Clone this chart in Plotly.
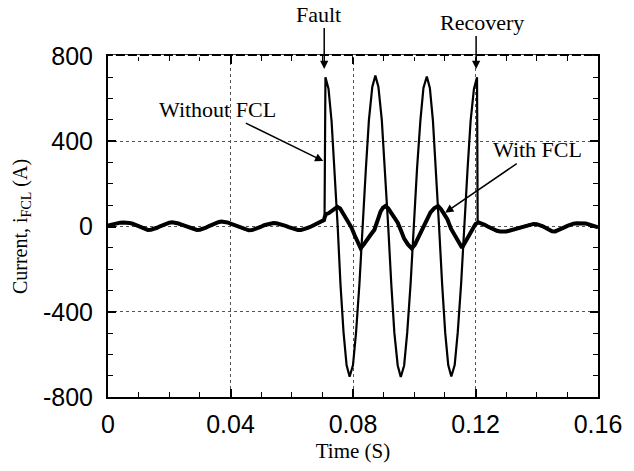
import plotly.graph_objects as go

# ---- data (time in s, current in A) ----
# normal operation before the fault (both cases identical)
t_pre = [0.000, 0.001, 0.002, 0.003, 0.004, 0.005, 0.006, 0.007, 0.008, 0.009,
         0.010, 0.011, 0.012, 0.013, 0.014, 0.015, 0.016, 0.017, 0.018, 0.019,
         0.020, 0.021, 0.022, 0.023, 0.024, 0.025, 0.026, 0.027, 0.028, 0.029,
         0.030, 0.031, 0.032, 0.033, 0.034, 0.035, 0.036, 0.037, 0.038, 0.039,
         0.040, 0.041, 0.042, 0.043, 0.044, 0.045, 0.046, 0.047, 0.048, 0.049,
         0.050, 0.051, 0.052, 0.053, 0.054, 0.055, 0.056, 0.057, 0.058, 0.059,
         0.060, 0.061, 0.062, 0.063, 0.064, 0.065, 0.066, 0.067, 0.068, 0.069,
         0.070]
i_pre = [4, 8, 12, 15, 18, 19, 19, 17, 13, 8,
         2, -6, -12, -16, -15, -12, -6, 1, 8, 14,
         18, 20, 18, 14, 9, 3, -3, -9, -14, -16,
         -15, -11, -5, 2, 9, 15, 20, 23, 22, 19,
         14, 8, 2, -5, -11, -16, -18, -17, -13, -7,
         -1, 6, 11, 15, 16, 15, 12, 8, 3, -3,
         -9, -13, -16, -16, -13, -8, -2, 5, 12, 18,
         24]

# fault period, without FCL
t_fault_without = [0.0707,
                   0.0710, 0.0720, 0.0730, 0.0740, 0.0750, 0.0759, 0.0769, 0.0779,
                   0.0789, 0.0800, 0.0810, 0.0821, 0.0831, 0.0842, 0.0852, 0.0863,
                   0.0873, 0.0883, 0.0894, 0.0904, 0.0915, 0.0925, 0.0935, 0.0946,
                   0.0956, 0.0967, 0.0977, 0.0988, 0.0998, 0.1009, 0.1020, 0.1030,
                   0.1041, 0.1051, 0.1061, 0.1071, 0.1081, 0.1091, 0.1101, 0.1111,
                   0.1121, 0.1132, 0.1142, 0.1153, 0.1163, 0.1174, 0.1184, 0.1195,
                   0.1205, 0.1207, 0.1210]
i_fault_without = [28,
                   700, 647, 495, 268, 0, -268, -495, -650,
                   -705, -650, -497, -269, 0, 270, 500, 655,
                   708, 655, 500, 270, 0, -270, -498, -652,
                   -706, -652, -498, -270, 0, 270, 497, 650,
                   704, 650, 497, 269, 0, -269, -497, -650,
                   -704, -650, -497, -269, 0, 268, 495, 647,
                   700, 25, 19]

# fault period, with FCL
t_fault_with = [0.0705, 0.0708, 0.0712, 0.0720, 0.0730, 0.0740, 0.0749, 0.0758,
                0.0766, 0.0775, 0.0785, 0.0795, 0.0805, 0.0815, 0.0825, 0.0835,
                0.0845, 0.0857, 0.0870, 0.0880, 0.0890, 0.0898, 0.0906, 0.0915,
                0.0925, 0.0935, 0.0946, 0.0957, 0.0967, 0.0980, 0.0992, 0.1002,
                0.1012, 0.1022, 0.1032, 0.1042, 0.1053, 0.1065, 0.1078, 0.1088,
                0.1098, 0.1108, 0.1120, 0.1134, 0.1145, 0.1156, 0.1170, 0.1182,
                0.1192, 0.1200, 0.1210]
i_fault_with = [30, 45, 58, 62, 72, 85, 92, 85,
                65, 40, 18, -5, -40, -75, -102, -85,
                -62, -40, -15, 30, 70, 88, 96, 85,
                62, 40, 18, -20, -57, -85, -103, -85,
                -55, -30, -5, 35, 66, 85, 96, 80,
                60, 34, -10, -48, -80, -100, -65, -34,
                -5, 12, 19]

# normal operation after recovery (both cases identical)
t_post = [0.122, 0.123, 0.124, 0.125, 0.126, 0.127, 0.128, 0.129, 0.130, 0.131,
          0.132, 0.133, 0.134, 0.135, 0.136, 0.137, 0.138, 0.139, 0.140, 0.141,
          0.142, 0.143, 0.144, 0.145, 0.146, 0.147, 0.148, 0.149, 0.150, 0.151,
          0.152, 0.153, 0.154, 0.155, 0.156, 0.157, 0.158, 0.159, 0.160]
i_post = [15, 8, 0, -8, -15, -20, -23, -24, -23, -20,
          -16, -11, -6, -1, 4, 8, 11, 12, 11, 7,
          1, -7, -15, -22, -23, -18, -11, -4, 3, 9,
          13, 15, 16, 16, 14, 10, 5, 0, -4]

x_ticks = [0, 0.04, 0.08, 0.12, 0.16]
x_tick_text = ["0", "0.04", "0.08", "0.12", "0.16"]
y_ticks = [-800, -400, 0, 400, 800]
y_tick_text = ["-800", "-400", "0", "400", "800"]

# annotation labels and the points their arrows touch
ann_text = ["Fault&nbsp;&nbsp;", "&nbsp;&nbsp;Recovery", "Without FCL", "With FCL"]
ann_tip_t = [0.0706, 0.1202, 0.0703, 0.1101]
ann_tip_i = [739, 739, 307, 65]

# ---- figure ----
serif = "Liberation Serif, Times New Roman, serif"
sans = "Liberation Sans, Arial, sans-serif"

fig = go.Figure()
fig.add_trace(go.Scatter(
    x=t_pre + t_fault_without + t_post,
    y=i_pre + i_fault_without + i_post,
    mode="lines", name="Without FCL",
    line=dict(color="black", width=2.2)))
fig.add_trace(go.Scatter(
    x=t_pre + t_fault_with + t_post,
    y=i_pre + i_fault_with + i_post,
    mode="lines", name="With FCL",
    line=dict(color="black", width=4)))

fig.update_layout(
    width=634, height=471,
    margin=dict(l=108, r=32, t=56, b=62),
    paper_bgcolor="white", plot_bgcolor="white",
    showlegend=False,
    font=dict(family=sans, color="black"),
    xaxis=dict(
        range=[0, 0.16], tickvals=x_ticks, ticktext=x_tick_text,
        ticks="inside", ticklen=8, tickwidth=1.5, tickcolor="black",
        minor=dict(dtick=0.01, ticks="inside", ticklen=5, tickwidth=1.2,
                   tickcolor="black", showgrid=False),
        showline=True, linecolor="black", linewidth=2, mirror="allticks",
        showgrid=True, gridcolor="#555", gridwidth=1, griddash="dot",
        zeroline=False,
        tickfont=dict(family=sans, size=25),
        ticklabelstandoff=4,
        title=dict(text="Time (S)", font=dict(family=serif, size=21), standoff=6),
    ),
    yaxis=dict(
        range=[-800, 800], tickvals=y_ticks, ticktext=y_tick_text,
        ticks="inside", ticklen=8, tickwidth=1.5, tickcolor="black",
        minor=dict(dtick=100, ticks="inside", ticklen=5, tickwidth=1.2,
                   tickcolor="black", showgrid=False),
        showline=True, linecolor="black", linewidth=2, mirror="allticks",
        showgrid=True, gridcolor="#555", gridwidth=1, griddash="dot",
        zeroline=False,
        tickfont=dict(family=sans, size=25),
        ticklabelstandoff=8,
        title=dict(text="Current, i<sub>FCL</sub> (A)",
                   font=dict(family=serif, size=20), standoff=10),
    ),
)

# break the top border into dashes (white dashes laid over the frame line)
fig.add_shape(type="line", xref="paper", yref="paper", x0=0.01, x1=0.99,
              y0=1, y1=1, layer="above",
              line=dict(color="white", width=2.5, dash="3px,9px"))

ann_font = dict(family=serif, size=22, color="black")
# pixel offsets of each label from its arrow tip
ann_dx = [0, 0, -106, 92]
ann_dy = [-55, -47, -52, -63]
for txt, t, i, dx, dy in zip(ann_text, ann_tip_t, ann_tip_i, ann_dx, ann_dy):
    fig.add_annotation(x=t, y=i, xref="x", yref="y", ax=dx, ay=dy,
                       text=txt, showarrow=True, font=ann_font,
                       arrowhead=2, arrowsize=1.1, arrowwidth=1.5,
                       arrowcolor="black")

fig.write_html("out.html")
